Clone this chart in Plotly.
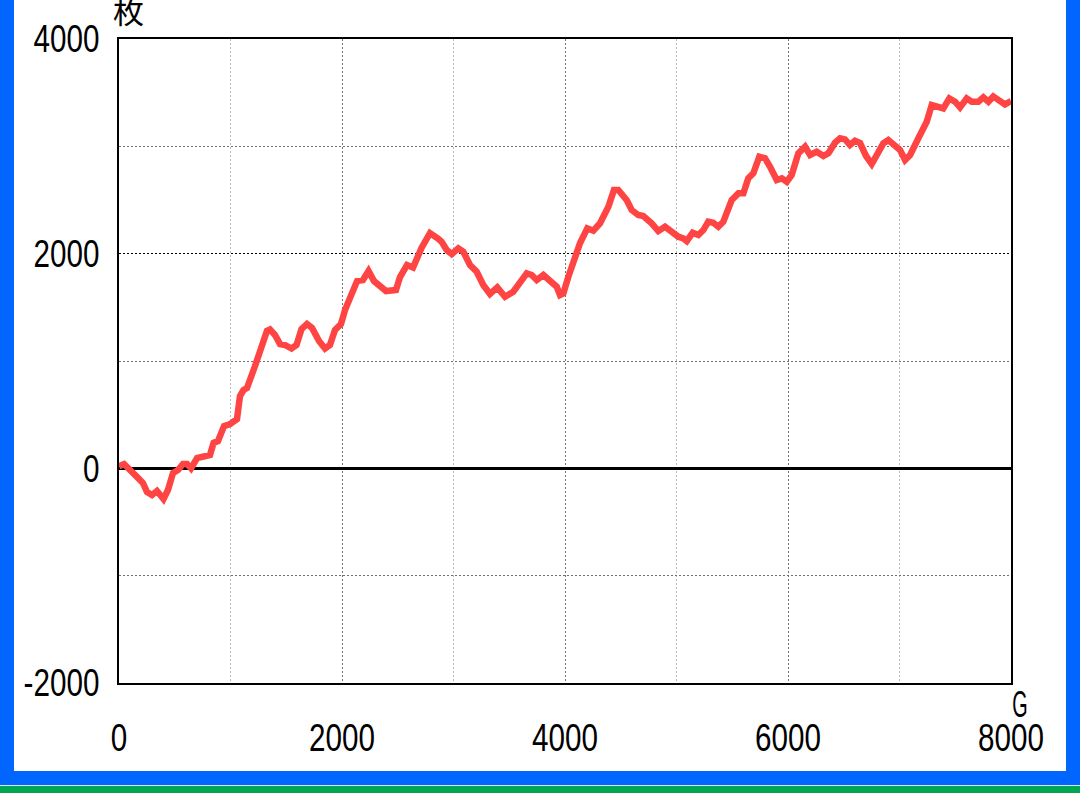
import plotly.graph_objects as go

# games (G)
games = [0, 45, 161, 215, 251, 296, 341, 368, 399, 439, 484, 529, 574, 610, 646, 700, 771, 816, 848, 888,
         942, 996, 1058, 1085, 1117, 1148, 1220, 1283, 1327, 1354, 1399, 1444, 1489, 1547, 1592, 1637, 1686, 1731, 1794, 1848,
         1892, 1937, 1991, 2027, 2090, 2135, 2188, 2238, 2287, 2341, 2395, 2484, 2520, 2583, 2637, 2713, 2789, 2861, 2894, 2939,
         2984, 3043, 3088, 3148, 3208, 3267, 3327, 3393, 3462, 3536, 3596, 3657, 3701, 3746, 3806, 3881, 3926, 3955, 3985, 4030,
         4075, 4135, 4200, 4254, 4314, 4389, 4439, 4478, 4553, 4598, 4657, 4702, 4777, 4837, 4897, 4957, 5016, 5061, 5092, 5145,
         5196, 5241, 5285, 5330, 5375, 5420, 5474, 5495, 5555, 5600, 5644, 5689, 5743, 5794, 5839, 5899, 5944, 5989, 6033, 6093,
         6153, 6198, 6258, 6317, 6362, 6422, 6467, 6511, 6556, 6601, 6646, 6700, 6751, 6796, 6855, 6900, 6945, 7005, 7050, 7095,
         7169, 7244, 7289, 7334, 7393, 7447, 7498, 7543, 7603, 7648, 7707, 7752, 7797, 7841, 7895, 7946, 7991, 8000]
# coins (枚)
coins = [20, 40, -80, -137, -221, -249, -211, -249, -286, -202, -44, -16, 40, 40, 0, 96, 105, 124, 236, 254,
         394, 412, 459, 674, 730, 748, 953, 1177, 1280, 1293, 1242, 1158, 1149, 1116, 1149, 1298, 1345, 1308, 1186, 1116,
         1149, 1289, 1345, 1475, 1643, 1745, 1754, 1838, 1745, 1698, 1652, 1661, 1782, 1894, 1871, 2053, 2192, 2141, 2111, 2034,
         1996, 2049, 2018, 1894, 1832, 1708, 1624, 1686, 1599, 1645, 1724, 1817, 1801, 1754, 1801, 1739, 1692, 1615, 1630, 1785,
         1910, 2099, 2236, 2214, 2283, 2437, 2593, 2593, 2500, 2407, 2360, 2351, 2283, 2211, 2251, 2195, 2158, 2143, 2118, 2195,
         2174, 2220, 2298, 2288, 2251, 2298, 2469, 2500, 2562, 2562, 2702, 2749, 2903, 2888, 2810, 2686, 2702, 2670, 2733, 2935,
         2996, 2919, 2950, 2910, 2935, 3034, 3075, 3065, 3012, 3052, 3031, 2910, 2835, 2919, 3028, 3059, 3022, 2966, 2872, 2919,
         3075, 3229, 3385, 3376, 3354, 3447, 3416, 3363, 3447, 3416, 3416, 3456, 3416, 3465, 3428, 3391, 3416, 3420]

x_ticks = [0, 2000, 4000, 6000, 8000]
y_ticks = [-2000, 0, 2000, 4000]
y_ticktext = ["-2000", "0", "2000", "4000"]

FONT = "Liberation Sans, Arial, sans-serif"

fig = go.Figure()
fig.add_trace(go.Scatter(x=games, y=coins, mode="lines",
                         line=dict(color="#ff4444", width=6.5), hoverinfo="skip"))

fig.update_layout(
    width=1080, height=793,
    margin=dict(l=119, r=69, t=39, b=110, autoexpand=False),
    paper_bgcolor="#0066ff",
    plot_bgcolor="#ffffff",
    showlegend=False,
    font=dict(family=FONT, size=38, color="#000000"),
    xaxis=dict(range=[0, 8000], tickvals=x_ticks, ticktext=[str(v) for v in x_ticks],
               showgrid=True, gridcolor="#707070", griddash="2px,2px", gridwidth=1,
               minor=dict(dtick=1000, tick0=0, showgrid=True, gridcolor="#b8b8b8", griddash="2px,2px", gridwidth=1),
               showline=True, linecolor="#000000", linewidth=2, mirror=True,
               zeroline=False, ticks="", ticklabelstandoff=20, automargin=False, fixedrange=True),
    yaxis=dict(range=[-2000, 4000], tickvals=y_ticks, ticktext=y_ticktext,
               showgrid=True, gridcolor="#000000", griddash="2px,2px", gridwidth=1,
               minor=dict(dtick=1000, tick0=0, showgrid=True, gridcolor="#707070", griddash="2px,2px", gridwidth=1),
               showline=True, linecolor="#000000", linewidth=2, mirror=True,
               zeroline=True, zerolinecolor="#000000", zerolinewidth=3,
               ticks="", ticklabelstandoff=10, automargin=False, fixedrange=True),
)

# white card behind the chart, blue frame and green bottom stripe
W, H = 892.0, 644.0
def px(xp):
    return (xp - 119) / W
def py(yp):
    return (683 - yp) / H

fig.add_shape(type="rect", xref="paper", yref="paper", layer="below",
              x0=px(14), x1=px(1066), y0=py(771), y1=py(-10),
              fillcolor="#ffffff", line=dict(width=0))
fig.add_shape(type="rect", xref="paper", yref="paper", layer="below",
              x0=px(-10), x1=px(1090), y0=py(786), y1=py(785),
              fillcolor="#d8e6ff", line=dict(width=0))
fig.add_shape(type="rect", xref="paper", yref="paper", layer="below",
              x0=px(-10), x1=px(1090), y0=py(800), y1=py(786),
              fillcolor="#00a651", line=dict(width=0))

fig.add_annotation(text="枚", xref="paper", yref="paper", x=px(128), y=py(9),
                   xanchor="center", yanchor="middle", showarrow=False,
                   font=dict(family="Noto Sans CJK JP", size=31, color="#000000"))
fig.add_annotation(text="G", xref="paper", yref="paper", x=px(1020), y=py(704),
                   xanchor="center", yanchor="middle", showarrow=False,
                   font=dict(family=FONT, size=36, color="#000000"))

# narrow (condensed) look for the Latin labels, as in the reference
post = """
document.body.style.margin = '0';
var gd = document.getElementById('{plot_id}');
function squeeze() {
  gd.querySelectorAll('.xtick text, .ytick text, .annotation-text').forEach(function (el) {
    var t = el.textContent;
    if (t === '枚') { return; }
    var w = el.getComputedTextLength();
    var f = (t === 'G') ? 0.55 : 0.78;
    el.setAttribute('textLength', (w * f).toFixed(1));
    el.setAttribute('lengthAdjust', 'spacingAndGlyphs');
  });
}
squeeze();
gd.on('plotly_afterplot', squeeze);
"""

fig.write_html("out.html", post_script=post, config={"displayModeBar": False})
